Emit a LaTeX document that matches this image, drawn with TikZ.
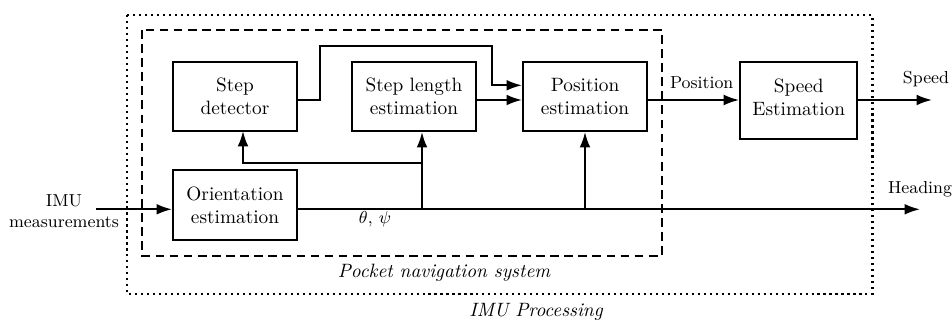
\documentclass[tikz,border=0pt]{standalone}
\usetikzlibrary{arrows.meta}
\begin{document}
\begin{tikzpicture}[x=0.518pt, y=-0.518pt,
  block/.style={draw, line width=1pt, minimum width=64.3pt, minimum height=35.8pt, align=center, inner sep=2pt},
  wire/.style={line width=1pt},
  flow/.style={wire, -{Latex[length=8pt, width=5.6pt]}},
  tag/.style={font=\small, align=center, inner sep=1pt},
  boxtitle/.style={font=\itshape, inner sep=1pt}]
\useasboundingbox (0,0) rectangle (952,322);

% outer and inner frames
\draw[line width=1.1pt, dotted] (127,15) rectangle (872.5,294);
\draw[line width=1pt, dash pattern=on 4.5pt off 2.8pt] (142,30) rectangle (662,256);
\node[boxtitle] (pnsLabel) at (444,273) {Pocket navigation system};
\node[boxtitle] (imuLabel) at (536,312) {IMU Processing};

% processing blocks
\node[block] (sd) at (235,96.5) {Step\\detector};
\node[block] (sl) at (414,96.5) {Step length\\estimation};
\node[block] (pe) at (585,96.5) {Position\\estimation};
\node[block] (oe) at (235,205) {Orientation\\estimation};
\node[draw, line width=1pt, minimum width=60.7pt, minimum height=39.9pt] (se) at (798.7,100.5) {};
\node[align=center, inner sep=0pt] (seText) at (798.7,97.5) {Speed\\Estimation};

% reference rows and junctions
\coordinate (row) at (0,100);
\coordinate (stepRow) at (0,85.3);
\coordinate (hdg) at (0,209.3);
\coordinate (imuIn) at (96,209.3);
\coordinate (jSl) at (422,209.3);
\coordinate (jPe) at (585,209.3);
\coordinate (jMid) at (422,162.7);
\coordinate (sdIn) at (243,162.7);
\coordinate (sdBot) at (243,131);
\coordinate (hdgEnd) at (920,209.3);
\coordinate (spdEnd) at (932,100);
\coordinate (up1) at (320,100);
\coordinate (up2) at (320,45.7);
\coordinate (up3) at (491.7,45.7);
\coordinate (up4) at (491.7,85.3);

% input
\node[tag] (imu) at (64,211.5) {IMU\\measurements};
\draw[flow] (imuIn) -- (oe.west |- hdg);

% attitude path and heading output
\draw[flow] (oe.east |- hdg) -- (hdgEnd);
\node[tag, anchor=south] (hdgLabel) at ([yshift=5pt]hdgEnd) {Heading};
\node[font=\small, inner sep=1pt] (angles) at (375,219) {$\theta$, $\psi$};
\draw[flow] (jSl) -- (jSl |- sl.south);
\draw[flow] (jMid) -- (sdIn) -- (sdBot);
\draw[flow] (jPe) -- (pe.south);

% step events and step length into position
\draw[flow] (sd.east |- row) -- (up1) -- (up2) -- (up3) -- (up4) -- (pe.west |- stepRow);
\draw[flow] (sl.east |- row) -- (pe.west |- row);

% position to speed
\draw[flow] (pe.east |- row) -- (se.west |- row);
\node[tag, anchor=south] (posLabel) at (701.7,91) {Position};
\draw[flow] (se.east |- row) -- (spdEnd);
\node[tag, anchor=south] (spdLabel) at (926,89) {Speed};
\end{tikzpicture}
\end{document}
